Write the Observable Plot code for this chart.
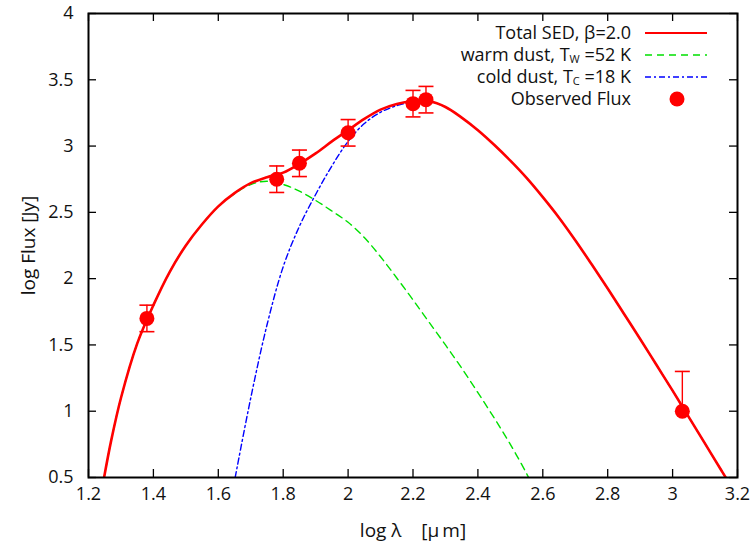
<!DOCTYPE html>
<html>
<head>
<meta charset="utf-8">
<script src="https://cdn.jsdelivr.net/npm/d3@7"></script>
<script src="https://cdn.jsdelivr.net/npm/@observablehq/plot@0.6"></script>
<style>
  html, body { margin: 0; padding: 0; background: #fff; }
  #chart { position: relative; width: 750px; height: 548px; }
  #legend { position: absolute; left: 0; top: 0; pointer-events: none; }
</style>
</head>
<body>
<div id="chart"></div>
<script>
// ---------- data ----------
const xTicks = [1.2, 1.4, 1.6, 1.8, 2.0, 2.2, 2.4, 2.6, 2.8, 3.0, 3.2];
const yTicks = [0.5, 1, 1.5, 2, 2.5, 3, 3.5, 4];

// observed photometry (log lambda [um], log flux [Jy], error bars)
const obsLogLambda = [1.38, 1.78, 1.85, 2.00, 2.20, 2.24, 3.03];
const obsLogFlux   = [1.70, 2.75, 2.87, 3.10, 3.32, 3.35, 1.00];
const obsErrLow    = [0.10, 0.10, 0.10, 0.10, 0.10, 0.10, 0.00];
const obsErrHigh   = [0.10, 0.10, 0.10, 0.10, 0.10, 0.10, 0.30];

// total SED (red solid)
const totalLogLambda = [1.248, 1.27, 1.30, 1.35, 1.40, 1.45, 1.50, 1.55, 1.60, 1.65, 1.70, 1.75, 1.80, 1.85, 1.90, 1.95, 2.00, 2.05, 2.10, 2.15, 2.20, 2.25, 2.30, 2.35, 2.40, 2.45, 2.50, 2.55, 2.60, 2.65, 2.70, 2.75, 2.80, 2.85, 2.90, 2.95, 3.00, 3.05, 3.10, 3.15, 3.165];
const totalLogFlux   = [0.50, 0.78, 1.10, 1.51, 1.80, 2.05, 2.25, 2.41, 2.545, 2.645, 2.72, 2.765, 2.80, 2.866, 2.945, 3.035, 3.12, 3.205, 3.275, 3.318, 3.338, 3.338, 3.295, 3.215, 3.12, 3.01, 2.89, 2.76, 2.615, 2.46, 2.29, 2.11, 1.925, 1.735, 1.545, 1.35, 1.155, 0.955, 0.755, 0.555, 0.495];

// warm dust component (green dashed)
const warmLogLambda = [1.248, 1.27, 1.30, 1.35, 1.40, 1.45, 1.50, 1.55, 1.60, 1.65, 1.70, 1.75, 1.80, 1.85, 1.90, 1.95, 2.00, 2.05, 2.10, 2.15, 2.20, 2.25, 2.30, 2.35, 2.40, 2.45, 2.50, 2.55, 2.558];
const warmLogFlux   = [0.50, 0.78, 1.10, 1.51, 1.80, 2.05, 2.25, 2.41, 2.545, 2.64, 2.71, 2.735, 2.71, 2.66, 2.59, 2.51, 2.425, 2.31, 2.165, 2.005, 1.84, 1.67, 1.50, 1.325, 1.14, 0.95, 0.75, 0.53, 0.49];

// cold dust component (blue dash-dot)
const coldLogLambda = [1.652, 1.70, 1.75, 1.80, 1.85, 1.90, 1.95, 2.00, 2.05, 2.10, 2.15, 2.20, 2.25, 2.30, 2.35, 2.40, 2.45, 2.50, 2.55, 2.60, 2.65, 2.70, 2.75, 2.80, 2.85, 2.90, 2.95, 3.00, 3.05, 3.10, 3.15, 3.165];
const coldLogFlux   = [0.50, 1.10, 1.65, 2.09, 2.395, 2.635, 2.85, 3.035, 3.17, 3.255, 3.305, 3.333, 3.336, 3.294, 3.215, 3.12, 3.01, 2.89, 2.76, 2.615, 2.46, 2.29, 2.11, 1.925, 1.735, 1.545, 1.35, 1.155, 0.955, 0.755, 0.555, 0.495];

// legend labels
const legendItems = [
  {label: ["Total SED, β=2.0"], kind: "total"},
  {label: ["warm dust, T", "W", " =52 K"], kind: "warm"},
  {label: ["cold dust, T", "C", " =18 K"], kind: "cold"},
  {label: ["Observed Flux"], kind: "obs"}
];

// ---------- build tables ----------
const toRows = (xs, ys) => xs.map((x, i) => ({x, y: ys[i]}));
const total = toRows(totalLogLambda, totalLogFlux);
const warm = toRows(warmLogLambda, warmLogFlux);
const cold = toRows(coldLogLambda, coldLogFlux);
const obs = obsLogLambda.map((x, i) => ({
  x, y: obsLogFlux[i],
  lo: obsLogFlux[i] - obsErrLow[i],
  hi: obsLogFlux[i] + obsErrHigh[i],
  hasLow: obsErrLow[i] > 0
}));
const caps = [
  ...obs.map(d => ({x: d.x, y: d.hi})),
  ...obs.filter(d => d.hasLow).map(d => ({x: d.x, y: d.lo}))
];

const RED = "#ff0000", GREEN = "#00e000", BLUE = "#0000ff";
const FONT = "'Open Sans', sans-serif";

const capSymbol = {
  draw(ctx, size) {
    const r = Math.sqrt(size / Math.PI);
    ctx.moveTo(-r, 0);
    ctx.lineTo(r, 0);
  }
};

const W = 750, H = 548;
const mL = 88, mR = 13, mT = 13, mB = 71;
const innerW = W - mL - mR, innerH = H - mT - mB;
const TL = 8; // tick length (inward)

const chart = Plot.plot({
  width: W,
  height: H,
  marginLeft: mL,
  marginRight: mR,
  marginTop: mT,
  marginBottom: mB,
  style: {fontFamily: FONT, fontSize: "18px", color: "#111", background: "#fff"},
  x: {domain: [1.2, 3.2]},
  y: {domain: [0.5, 4]},
  marks: [
    Plot.line(warm, {x: "x", y: "y", stroke: GREEN, strokeWidth: 1.4, strokeDasharray: "7,5", curve: "catmull-rom", clip: true}),
    Plot.line(cold, {x: "x", y: "y", stroke: BLUE, strokeWidth: 1.4, strokeDasharray: "6,3,2,3", curve: "catmull-rom", clip: true}),
    Plot.line(total, {x: "x", y: "y", stroke: RED, strokeWidth: 2.6, curve: "catmull-rom", clip: true}),
    Plot.ruleX(obs, {x: "x", y1: "lo", y2: "hi", stroke: RED, strokeWidth: 1.4}),
    Plot.dot(caps, {x: "x", y: "y", symbol: capSymbol, r: 7.5, stroke: RED, strokeWidth: 1.6, fill: "none"}),
    Plot.dot(obs, {x: "x", y: "y", r: 7.5, fill: RED, stroke: "none"}),
    // inward ticks on all four sides
    Plot.tickX(xTicks, {x: d => d, insetTop: innerH - TL, stroke: "#000", strokeWidth: 1.3}),
    Plot.tickX(xTicks, {x: d => d, insetBottom: innerH - TL, stroke: "#000", strokeWidth: 1.3}),
    Plot.tickY(yTicks, {y: d => d, insetRight: innerW - TL, stroke: "#000", strokeWidth: 1.3}),
    Plot.tickY(yTicks, {y: d => d, insetLeft: innerW - TL, stroke: "#000", strokeWidth: 1.3}),
    Plot.axisX(xTicks, {anchor: "bottom", tickSize: 0, tickPadding: 10, tickFormat: d => String(d), fontSize: 18, label: null}),
    Plot.axisY(yTicks, {anchor: "left", tickSize: 0, tickPadding: 15, tickFormat: d => String(d), fontSize: 18, label: null}),
    Plot.axisX({anchor: "bottom", ticks: [], tickSize: 0, label: "log λ\u00a0\u00a0\u00a0\u00a0[μ\u2009m]", labelAnchor: "center", labelOffset: 59, labelArrow: false, fontSize: 19}),
    Plot.axisY({anchor: "left", ticks: [], tickSize: 0, label: "log Flux [Jy]", labelAnchor: "center", labelOffset: 67, labelArrow: false, fontSize: 19}),
    Plot.frame({stroke: "#000", strokeWidth: 2})
  ]
});

const container = document.getElementById("chart");
container.appendChild(chart);

// ---------- legend (inside plot, top right) ----------
const NS = "http://www.w3.org/2000/svg";
const leg = document.createElementNS(NS, "svg");
leg.setAttribute("id", "legend");
leg.setAttribute("width", W);
leg.setAttribute("height", H);
const textRight = 631, sampleX1 = 645, sampleX2 = 707, rowY0 = 33, rowStep = 22;
legendItems.forEach((item, i) => {
  const y = rowY0 + i * rowStep;
  const t = document.createElementNS(NS, "text");
  t.setAttribute("x", textRight);
  t.setAttribute("y", y);
  t.setAttribute("dy", "0.35em");
  t.setAttribute("text-anchor", "end");
  t.setAttribute("font-family", FONT);
  t.setAttribute("font-size", "18px");
  t.setAttribute("fill", "#111");
  item.label.forEach((part, j) => {
    const s = document.createElementNS(NS, "tspan");
    s.textContent = part;
    if (j === 1) { s.setAttribute("font-size", "11px"); s.setAttribute("dy", "2"); }
    if (j === 2) { s.setAttribute("dy", "-2"); s.setAttribute("style", "white-space:pre"); }
    t.appendChild(s);
  });
  leg.appendChild(t);
  if (item.kind === "obs") {
    const c = document.createElementNS(NS, "circle");
    c.setAttribute("cx", (sampleX1 + sampleX2) / 2 + 1);
    c.setAttribute("cy", y);
    c.setAttribute("r", 7.5);
    c.setAttribute("fill", RED);
    leg.appendChild(c);
  } else {
    const l = document.createElementNS(NS, "line");
    l.setAttribute("x1", sampleX1); l.setAttribute("x2", sampleX2);
    l.setAttribute("y1", y); l.setAttribute("y2", y);
    const st = {total: [RED, 2.2, null], warm: [GREEN, 1.4, "7,5"], cold: [BLUE, 1.4, "6,3,2,3"]}[item.kind];
    l.setAttribute("stroke", st[0]);
    l.setAttribute("stroke-width", st[1]);
    if (st[2]) l.setAttribute("stroke-dasharray", st[2]);
    leg.appendChild(l);
  }
});
container.appendChild(leg);
</script>
</body>
</html>
